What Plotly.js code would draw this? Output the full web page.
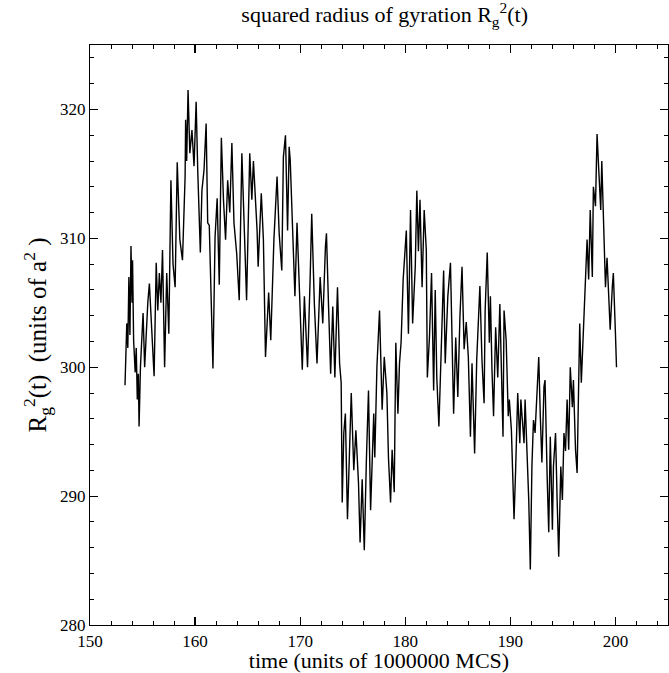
<!DOCTYPE html>
<html>
<head>
<meta charset="utf-8">
<script src="https://cdn.plot.ly/plotly-3.0.1.min.js"></script>
<style>html,body{margin:0;padding:0;background:#fff;}#chart{width:669px;height:673px;}</style>
</head>
<body>
<div id="chart"></div>
<script>
// time (units of 1000000 MCS)
const time = [
153.33,153.5,153.6,153.7,153.8,153.9,154.0,154.05,154.15,154.3,154.4,154.5,154.6,154.67,154.8,154.9,
155.05,155.2,155.35,155.5,155.65,155.8,155.95,156.1,156.3,156.45,156.6,156.75,156.9,157.1,157.3,157.5,
157.7,157.9,158.1,158.3,158.55,158.8,159.05,159.1,159.2,159.33,159.5,159.7,159.9,160.1,160.25,160.5,
160.65,160.85,161.05,161.2,161.35,161.55,161.7,161.9,162.1,162.3,162.5,162.7,162.9,163.1,163.3,163.5,
163.7,163.96,164.2,164.45,164.65,164.9,165.2,165.4,165.55,165.9,166.0,166.3,166.5,166.7,167.0,167.2,
167.5,167.8,168.0,168.25,168.4,168.6,168.8,168.95,169.05,169.3,169.5,169.7,170.0,170.2,170.4,170.7,
170.95,171.1,171.35,171.6,171.9,172.15,172.4,172.5,172.7,172.9,173.1,173.3,173.55,173.75,173.9,174.0,
174.15,174.3,174.5,174.7,174.86,175.1,175.3,175.55,175.7,175.9,176.1,176.3,176.5,176.7,177.0,177.1,
177.3,177.55,177.8,178.0,178.25,178.4,178.6,178.75,178.95,179.1,179.3,179.45,179.6,179.8,180.1,180.3,
180.5,180.7,180.95,181.1,181.25,181.4,181.6,181.8,182.0,182.1,182.3,182.5,182.7,182.85,183.0,183.2,
183.4,183.65,183.8,184.05,184.3,184.45,184.6,184.8,185.0,185.2,185.4,185.6,185.8,186.0,186.2,186.35,
186.6,186.8,187.1,187.3,187.5,187.6,187.8,188.0,188.1,188.25,188.4,188.6,188.8,189.0,189.3,189.4,
189.6,189.8,189.9,190.1,190.2,190.35,190.5,190.7,190.9,191.0,191.3,191.4,191.75,191.9,192.05,192.2,
192.35,192.5,192.7,192.85,193.0,193.2,193.3,193.5,193.65,193.8,194.0,194.1,194.3,194.45,194.6,194.8,
194.95,195.1,195.25,195.4,195.55,195.7,195.9,196.0,196.2,196.35,196.5,196.6,196.75,197.0,197.15,197.3,
197.45,197.6,197.8,197.9,198.1,198.25,198.4,198.6,198.7,198.9,199.05,199.2,199.4,199.5,199.7,199.8,
200.0,200.1
];
// squared radius of gyration Rg^2(t) (units of a^2)
const rg2 = [
298.6,303.4,301.5,307.0,302.5,309.4,305.0,308.3,302.1,299.6,301.5,297.5,299.5,295.4,300.0,302.3,
304.2,300.0,303.0,305.0,306.5,304.2,301.5,299.3,308.1,304.4,307.3,305.0,309.1,300.0,307.3,302.6,
314.5,308.0,306.2,315.9,309.9,308.3,314.8,319.2,316.0,321.5,316.6,318.4,315.6,320.6,315.3,308.9,
313.7,315.3,318.9,311.2,311.0,304.7,299.9,310.1,313.1,306.4,317.8,313.0,309.9,314.5,312.0,317.4,
311.2,308.8,305.2,316.6,310.9,305.2,316.6,313.0,316.0,310.6,307.8,313.5,309.9,300.8,305.8,302.1,
309.9,314.8,310.4,307.5,316.3,318.0,310.6,317.1,316.1,310.6,305.5,311.2,305.2,299.8,305.5,300.0,
307.0,311.9,304.9,300.3,307.0,303.4,309.3,310.4,304.7,299.5,304.7,299.2,306.2,300.3,298.8,289.5,
294.9,296.4,288.2,294.0,298.0,292.0,295.1,291.0,286.4,291.3,285.8,292.8,298.2,288.9,296.4,293.0,
300.0,304.4,296.7,300.8,298.0,293.0,289.5,293.6,290.3,301.9,296.4,300.3,301.9,306.8,310.6,302.6,
312.2,303.4,307.8,313.7,309.0,313.0,306.2,312.2,309.1,299.2,302.3,307.3,298.2,306.0,299.2,295.4,
301.4,307.5,300.3,305.5,308.1,302.3,296.4,302.3,297.7,303.9,307.8,301.4,303.5,300.8,294.6,300.3,
293.3,300.6,306.3,300.5,297.2,304.4,308.9,301.9,305.5,299.8,296.2,303.1,299.2,304.9,294.6,304.4,
302.1,296.2,297.5,295.1,292.8,288.2,292.0,298.0,294.1,297.5,294.1,297.5,289.7,284.3,292.3,295.9,
294.9,298.0,300.8,296.2,292.6,298.5,299.0,291.5,287.2,294.6,287.4,292.3,294.9,289.7,285.3,292.3,
289.7,294.9,293.5,297.5,293.6,300.0,296.9,299.0,293.6,291.8,298.0,303.4,298.8,303.9,307.8,309.9,
306.8,312.2,307.0,314.0,312.5,318.1,315.5,312.2,316.0,309.9,306.2,308.5,304.7,302.9,306.2,307.3,
302.6,300.0
];
const xTickVals = [150,160,170,180,190,200];
const yTickVals = [280,290,300,310,320];

const font = 'Liberation Serif, Times New Roman, serif';
const trace = {x: time, y: rg2, type: 'scatter', mode: 'lines',
  line: {color: '#000', width: 1.4}, hoverinfo: 'skip'};

const axisCommon = {
  showgrid: false, zeroline: false, showline: true, linecolor: '#000', linewidth: 1.2,
  mirror: 'ticks', ticks: 'inside', ticklen: 8, tickwidth: 1.2, tickcolor: '#000',
  tickfont: {family: font, size: 17, color: '#000'}
};

const layout = {
  width: 669, height: 673,
  margin: {l: 90, r: 1, t: 45, b: 48},
  paper_bgcolor: '#fff', plot_bgcolor: '#fff',
  showlegend: false,
  title: {text: 'squared radius of gyration R<sub>g</sub><sup>2</sup>(t)',
    font: {family: font, size: 22, color: '#000'}, x: 0.575, xref: 'container', xanchor: 'center',
    y: 0.99, yref: 'container', yanchor: 'top'},
  xaxis: Object.assign({}, axisCommon, {
    range: [150, 205], tickmode: 'array', tickvals: xTickVals, ticktext: xTickVals.map(String),
    minor: {dtick: 2, tick0: 150, ticks: 'inside', ticklen: 4, tickwidth: 1, tickcolor: '#000'},
    title: {text: 'time (units of 1000000 MCS)', font: {family: font, size: 22, color: '#000'}, standoff: 6}
  }),
  yaxis: Object.assign({}, axisCommon, {
    range: [280, 325], tickmode: 'array', tickvals: yTickVals, ticktext: yTickVals.map(String),
    minor: {dtick: 2, tick0: 280, ticks: 'inside', ticklen: 4, tickwidth: 1, tickcolor: '#000'},
    title: {text: 'R<sub>g</sub><sup>2</sup>(t)  (units of a<sup>2</sup> )', font: {family: font, size: 25, color: '#000'}, standoff: 6}
  })
};

Plotly.newPlot('chart', [trace], layout, {staticPlot: true, displayModeBar: false});
</script>
</body>
</html>
